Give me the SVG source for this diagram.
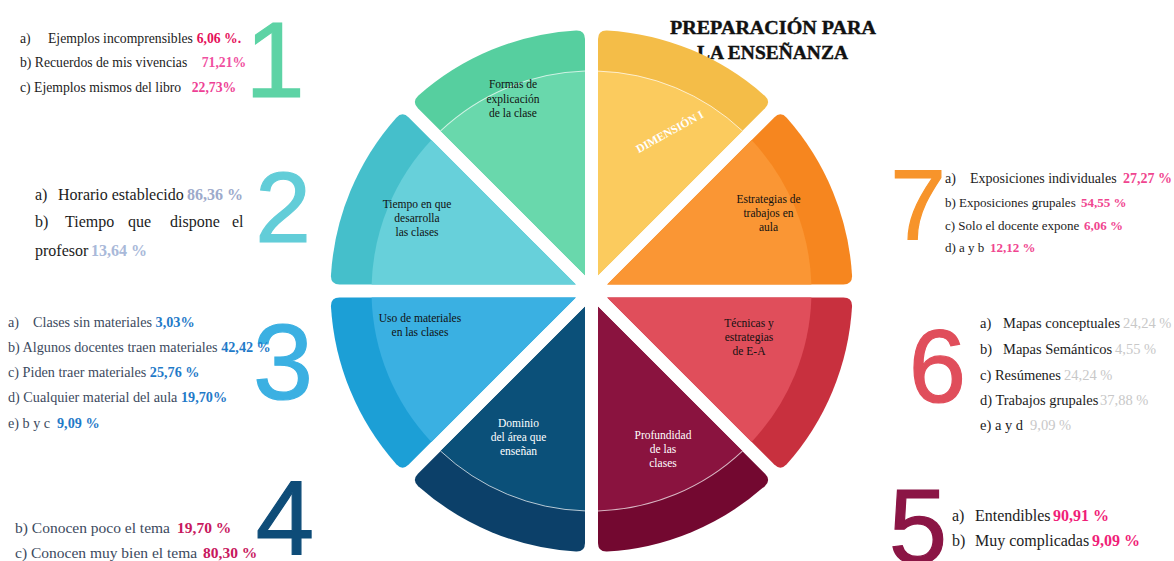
<svg xmlns="http://www.w3.org/2000/svg" xmlns:xlink="http://www.w3.org/1999/xlink" width="1174" height="561" viewBox="0 0 1174 561">
<style>
.t{font-family:"Liberation Serif","Times New Roman",serif;fill:#1c1c1c}
.s{fill:#3c4a5e}
.b{font-weight:bold}
.w{font-family:"Liberation Serif","Times New Roman",serif;font-size:11.5px;text-anchor:middle;fill:#111}
.wh{fill:#fff}
.big{font-family:"Liberation Sans",Arial,sans-serif;text-anchor:middle;stroke-width:1.2}
.arc{fill:none;stroke:#fff;stroke-opacity:0.7;stroke-width:1}
.title{font-family:"Liberation Serif","Times New Roman",serif;font-weight:bold;font-size:19px;fill:#111;stroke:#111;stroke-width:0.4}
</style>
<defs>
<path id="outer" d="M15.69 6.5 L251.92 6.5 Q260.92 6.5 260.54 15.49 A261 261 0 0 1 195.17 173.29 Q189.10 179.90 182.73 173.54 Z"/>
<path id="inner" d="M15.69 6.5 L219.90 6.5 A220 220 0 0 1 160.09 150.90 Z"/>
<path id="line" d="M219.90 6.5 A220 220 0 0 1 160.09 150.90"/>
</defs>

<g id="title">
<text class="title" x="670" y="34" textLength="206" lengthAdjust="spacingAndGlyphs">PREPARACIÓN  PARA</text>
<text class="title" x="697" y="59" textLength="151" lengthAdjust="spacingAndGlyphs">LA ENSEÑANZA</text>
</g>

<g id="wedge-green">
<use href="#outer" transform="translate(591.5 291) rotate(225)" fill="#56cf9f"/>
<use href="#inner" transform="translate(591.5 291) rotate(225)" fill="#69d8ac"/>
<use href="#line" class="arc" transform="translate(591.5 291) rotate(225)"/>
<text class="w" x="513" y="88">Formas de</text>
<text class="w" x="513" y="102.5">explicación</text>
<text class="w" x="513" y="117">de la clase</text>
</g>

<g id="wedge-yellow">
<use href="#outer" transform="translate(591.5 291) rotate(270)" fill="#f4bd48"/>
<use href="#inner" transform="translate(591.5 291) rotate(270)" fill="#fbcb5e"/>
<use href="#line" class="arc" transform="translate(591.5 291) rotate(270)"/>
<text class="w wh b" x="0" y="0" font-size="11" transform="translate(671.5 135) rotate(-29)">DIMENSIÓN I</text>
</g>

<g id="wedge-orange">
<use href="#outer" transform="translate(591.5 291) rotate(315)" fill="#f6861f"/>
<use href="#inner" transform="translate(591.5 291) rotate(315)" fill="#fa9634"/>
<text class="w" x="768.5" y="203">Estrategias de</text>
<text class="w" x="768.5" y="217">trabajos en</text>
<text class="w" x="768.5" y="231">aula</text>
</g>

<g id="wedge-red">
<use href="#outer" transform="translate(591.5 291)" fill="#c8303e"/>
<use href="#inner" transform="translate(591.5 291)" fill="#e04e5b"/>
<text class="w" x="749" y="327">Técnicas y</text>
<text class="w" x="749" y="341">estrategias</text>
<text class="w" x="749" y="355">de E-A</text>
</g>

<g id="wedge-maroon">
<use href="#outer" transform="translate(591.5 291) rotate(45)" fill="#730830"/>
<use href="#inner" transform="translate(591.5 291) rotate(45)" fill="#8a133f"/>
<use href="#line" class="arc" transform="translate(591.5 291) rotate(45)"/>
<text class="w wh" x="663" y="439">Profundidad</text>
<text class="w wh" x="663" y="453">de las</text>
<text class="w wh" x="663" y="467">clases</text>
</g>

<g id="wedge-navy">
<use href="#outer" transform="translate(591.5 291) rotate(90)" fill="#0c4069"/>
<use href="#inner" transform="translate(591.5 291) rotate(90)" fill="#0b5079"/>
<use href="#line" class="arc" transform="translate(591.5 291) rotate(90)"/>
<text class="w wh" x="518.5" y="427">Dominio</text>
<text class="w wh" x="518.5" y="441">del área que</text>
<text class="w wh" x="518.5" y="455">enseñan</text>
</g>

<g id="wedge-blue">
<use href="#outer" transform="translate(591.5 291) rotate(135)" fill="#1c9fd6"/>
<use href="#inner" transform="translate(591.5 291) rotate(135)" fill="#3ab0e2"/>
<text class="w" x="420" y="322">Uso de materiales</text>
<text class="w" x="420" y="335.5">en las clases</text>
</g>

<g id="wedge-teal">
<use href="#outer" transform="translate(591.5 291) rotate(180)" fill="#45bfcb"/>
<use href="#inner" transform="translate(591.5 291) rotate(180)" fill="#67d0da"/>
<text class="w" x="417" y="208">Tiempo en que</text>
<text class="w" x="417" y="222">desarrolla</text>
<text class="w" x="417" y="236">las clases</text>
</g>

<g id="list-1">
<text class="big" x="275" y="97" font-size="107" fill="#5dd3a5" stroke="#5dd3a5" stroke-width="2">1</text>
<g class="t" font-size="13.7">
<text x="20" y="43">a)<tspan x="48">Ejemplos incomprensibles</tspan><tspan x="196.7" class="b" fill="#e5105a">6,06 %.</tspan></text>
<text x="20" y="67">b) Recuerdos de mis vivencias<tspan x="201.7" class="b" fill="#f04fa0">71,21%</tspan></text>
<text x="20" y="92">c) Ejemplos mismos del libro<tspan x="191.7" class="b" fill="#ee3f95">22,73%</tspan></text>
</g>
</g>

<g id="list-2">
<text class="big" x="283" y="242" font-size="100" fill="#62cdd8" stroke="#62cdd8">2</text>
<g class="t" font-size="16">
<text x="35" y="200">a)<tspan x="58">Horario establecido</tspan><tspan x="187" class="b" fill="#9daacb">86,36 %</tspan></text>
<text x="35" y="227">b)<tspan x="65">Tiempo</tspan><tspan x="128">que</tspan><tspan x="170">dispone</tspan><tspan x="232">el</tspan></text>
<text x="35" y="256">profesor<tspan x="91" class="b" fill="#a9b9d9">13,64 %</tspan></text>
</g>
</g>

<g id="list-3">
<text class="big" x="283" y="399" font-size="108" fill="#3bb0e2" stroke="#3bb0e2">3</text>
<g class="t s" font-size="14.2">
<text class="s" x="8" y="327">a)<tspan x="33">Clases sin materiales </tspan><tspan class="b" fill="#1f7ac8">3,03%</tspan></text>
<text class="s" x="8" y="352">b) Algunos docentes traen materiales <tspan class="b" fill="#1f7ac8">42,42 %</tspan></text>
<text class="s" x="8" y="377">c) Piden traer materiales <tspan class="b" fill="#1f7ac8">25,76 %</tspan></text>
<text class="s" x="8" y="402">d) Cualquier material del aula <tspan class="b" fill="#1f7ac8">19,70%</tspan></text>
<text class="s" x="8" y="428">e) b y c<tspan x="57" class="b" fill="#1f7ac8">9,09 %</tspan></text>
</g>
</g>

<g id="list-4">
<text class="big" x="285" y="555" font-size="105" fill="#0e4c78" stroke="#0e4c78">4</text>
<g class="t" font-size="15.5">
<text class="s" x="15" y="533">b) Conocen poco el tema<tspan x="177" class="b" fill="#c8185e">19,70 %</tspan></text>
<text class="s" x="15" y="558">c) Conocen muy bien el tema<tspan x="203" class="b" fill="#c8185e">80,30 %</tspan></text>
</g>
</g>

<g id="list-7">
<text class="big" x="918" y="240" font-size="100" fill="#f7942b" stroke="#f7942b">7</text>
<g class="t" font-size="13">
<text x="945" y="183" font-size="14">a)<tspan x="970">Exposiciones individuales</tspan><tspan x="1123" class="b" fill="#f0458f">27,27 %</tspan></text>
<text x="945" y="207">b) Exposiciones grupales<tspan x="1081" class="b" fill="#f0458f">54,55 %</tspan></text>
<text x="945" y="230">c) Solo el docente expone<tspan x="1084" class="b" fill="#f0458f">6,06 %</tspan></text>
<text x="945" y="252">d) a y b<tspan x="990" class="b" fill="#f0458f">12,12 %</tspan></text>
</g>
</g>

<g id="list-6">
<text class="big" x="937.5" y="402" font-size="103" fill="#e04e5b" stroke="#e04e5b">6</text>
<g class="t" font-size="14.5">
<text x="980" y="328">a)<tspan x="1003">Mapas conceptuales</tspan><tspan x="1123" fill="#c8c8c8">24,24 %</tspan></text>
<text x="980" y="354">b)<tspan x="1003">Mapas Semánticos</tspan><tspan x="1115" fill="#c8c8c8">4,55 %</tspan></text>
<text x="980" y="380">c) Resúmenes<tspan x="1064" fill="#c8c8c8">24,24 %</tspan></text>
<text x="980" y="405">d) Trabajos grupales<tspan x="1100" fill="#c8c8c8">37,88 %</tspan></text>
<text x="980" y="430">e) a y d<tspan x="1030" fill="#c8c8c8">9,09 %</tspan></text>
</g>
</g>

<g id="list-5">
<text class="big" x="918" y="563" font-size="105" fill="#8b1545" stroke="#8b1545">5</text>
<g class="t" font-size="16">
<text x="952" y="521">a)<tspan x="975">Entendibles</tspan><tspan x="1053" class="b" fill="#f01e78">90,91 %</tspan></text>
<text x="952" y="546">b)<tspan x="975">Muy complicadas</tspan><tspan x="1092" class="b" fill="#f01e78">9,09 %</tspan></text>
</g>
</g>
</svg>
